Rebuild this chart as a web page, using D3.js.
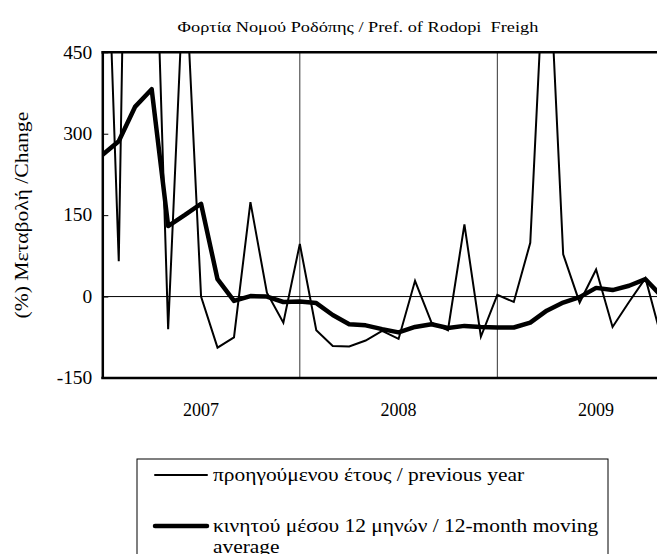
<!DOCTYPE html>
<html>
<head>
<meta charset="utf-8">
<script src="https://cdn.jsdelivr.net/npm/d3@7"></script>
<style>
  html, body { margin: 0; padding: 0; background: #fff; overflow: hidden; }
  svg { display: block; font-family: "Liberation Serif", "Times New Roman", serif; }
  text { white-space: pre; }
</style>
</head>
<body>
<svg id="chart" width="657" height="554"></svg>
<script>
/* Freight, Pref. of Rodopi: % change vs previous year and 12-month moving average */

const months = [
  "01/2007","02/2007","03/2007","04/2007","05/2007","06/2007","07/2007","08/2007","09/2007","10/2007","11/2007","12/2007",
  "01/2008","02/2008","03/2008","04/2008","05/2008","06/2008","07/2008","08/2008","09/2008","10/2008","11/2008","12/2008",
  "01/2009","02/2009","03/2009","04/2009","05/2009","06/2009","07/2009","08/2009","09/2009","10/2009","11/2009"
];
const years = ["2007", "2008", "2009"];

// % change on previous year (values above 450 run off the top of the plot)
const prevYear = [950, 65, 1900, 920, -60, 630, 0, -94, -75, 174, 7, -48,
                  97, -62, -91, -92, -81, -63, -78, 29, -48, -62, 133, -74,
                  3, -10, 99, 720, 78, -11, 50, -56, -10, 34, -80];
// 12-month moving average
const movingAvg = [261, 286, 350, 382, 130, 150, 171, 32, -8, 1, 0, -10,
                   -9, -12, -34, -51, -53, -60, -66, -56, -51, -58, -54, -56,
                   -57, -57, -48, -26, -11, -1, 16, 12, 20, 32, 0];

const yTicks = [-150, 0, 150, 300, 450];

const legendItems = [
  { lines: ["προηγούμενου έτους / previous year"], width: 2 },
  { lines: ["κινητού μέσου 12 μηνών / 12-month moving", "average"], width: 4.5 }
];

const svg = d3.select("#chart");

// the original's text runs a little wider than Liberation Serif; stretch to match
function stretch(sel, k) {
  sel.each(function () {
    const w = this.getComputedTextLength();
    d3.select(this).attr("textLength", w * k).attr("lengthAdjust", "spacingAndGlyphs");
  });
}

/* ── geometry ── */
const L = 102.3, T = 52.3, B = 378;
const monthW = 16.46;
const R = L + monthW * 12 * years.length;   // runs past the window edge, as in the original

const x = d3.scaleLinear().domain([0, 12 * years.length]).range([L, R]);
const y = d3.scaleLinear().domain([-150, 450]).range([B, T]);

svg.append("defs").append("clipPath").attr("id", "plot-clip")
  .append("rect").attr("x", L).attr("y", T).attr("width", R - L).attr("height", B - T);

/* ── title ── */
svg.append("text")
  .attr("x", 358).attr("y", 32)
  .attr("text-anchor", "middle").attr("font-size", 15).attr("fill", "#000")
  .text("Φορτία Νομού Ροδόπης / Pref. of Rodopi  Freigh")
  .call(stretch, 1.22);

/* ── year separators + zero line ── */
const gGrid = svg.append("g");
gGrid.selectAll("line.sep").data(d3.range(1, years.length)).join("line")
  .attr("class", "sep")
  .attr("x1", d => x(d * 12)).attr("x2", d => x(d * 12))
  .attr("y1", T).attr("y2", B)
  .attr("stroke", "#333").attr("stroke-width", 1);
gGrid.append("line")
  .attr("x1", L).attr("x2", R).attr("y1", y(0)).attr("y2", y(0))
  .attr("stroke", "#000").attr("stroke-width", 1);

/* ── series ── */
const gLines = svg.append("g").attr("clip-path", "url(#plot-clip)");
const line = d3.line().x((d, i) => x(i)).y(d => y(d));

gLines.append("path").datum(prevYear)
  .attr("d", line).attr("fill", "none")
  .attr("stroke", "#000").attr("stroke-width", 2).attr("stroke-linejoin", "miter");
gLines.append("path").datum(movingAvg)
  .attr("d", line).attr("fill", "none")
  .attr("stroke", "#000").attr("stroke-width", 4.5).attr("stroke-linejoin", "round");

/* ── frame ── */
svg.append("line").attr("x1", L - 1).attr("x2", R).attr("y1", T).attr("y2", T)
  .attr("stroke", "#000").attr("stroke-width", 2.5);
svg.append("line").attr("x1", L - 1).attr("x2", R).attr("y1", B).attr("y2", B)
  .attr("stroke", "#000").attr("stroke-width", 2.5);

/* ── y axis ── */
const yAxis = d3.axisLeft(y).tickValues(yTicks).tickFormat(d => String(d))
  .tickSizeInner(-6).tickSizeOuter(0).tickPadding(10);
const gY = svg.append("g").attr("transform", `translate(${L},0)`).call(yAxis);
gY.select(".domain").attr("stroke", "#000").attr("stroke-width", 2.5);
gY.selectAll(".tick line").attr("stroke", "#000").attr("stroke-width", 1);
gY.selectAll(".tick text").attr("font-size", 18).attr("fill", "#000")
  .attr("font-family", "'Liberation Serif', 'Times New Roman', serif")
  .call(stretch, 1.08);

svg.append("text")
  .attr("transform", `translate(28,${(T + B) / 2}) rotate(-90)`)
  .attr("text-anchor", "middle").attr("font-size", 18).attr("fill", "#000")
  .text("(%) Μεταβολή /Change")
  .call(stretch, 1.2);

/* ── year labels ── */
svg.append("g").selectAll("text").data(years).join("text")
  .attr("x", (d, i) => x(i * 12 + 6)).attr("y", 416)
  .attr("text-anchor", "middle").attr("font-size", 18).attr("fill", "#000")
  .text(d => d);

/* ── legend ── */
const gLeg = svg.append("g");
gLeg.append("rect")
  .attr("x", 137).attr("y", 459).attr("width", 471).attr("height", 120)
  .attr("fill", "#fff").attr("stroke", "#000").attr("stroke-width", 1);

const legRowY = [475, 526];
legendItems.forEach((it, k) => {
  const cy = legRowY[k];
  gLeg.append("line")
    .attr("x1", 155).attr("x2", 207).attr("y1", cy).attr("y2", cy)
    .attr("stroke", "#000").attr("stroke-width", it.width).attr("stroke-linecap", "round");
  it.lines.forEach((s, j) => {
    gLeg.append("text").attr("font-size", 18).attr("fill", "#000")
      .attr("x", 213).attr("y", cy + 6 + j * 20.5).text(s)
      .call(stretch, 1.19);
  });
});
</script>
</body>
</html>
